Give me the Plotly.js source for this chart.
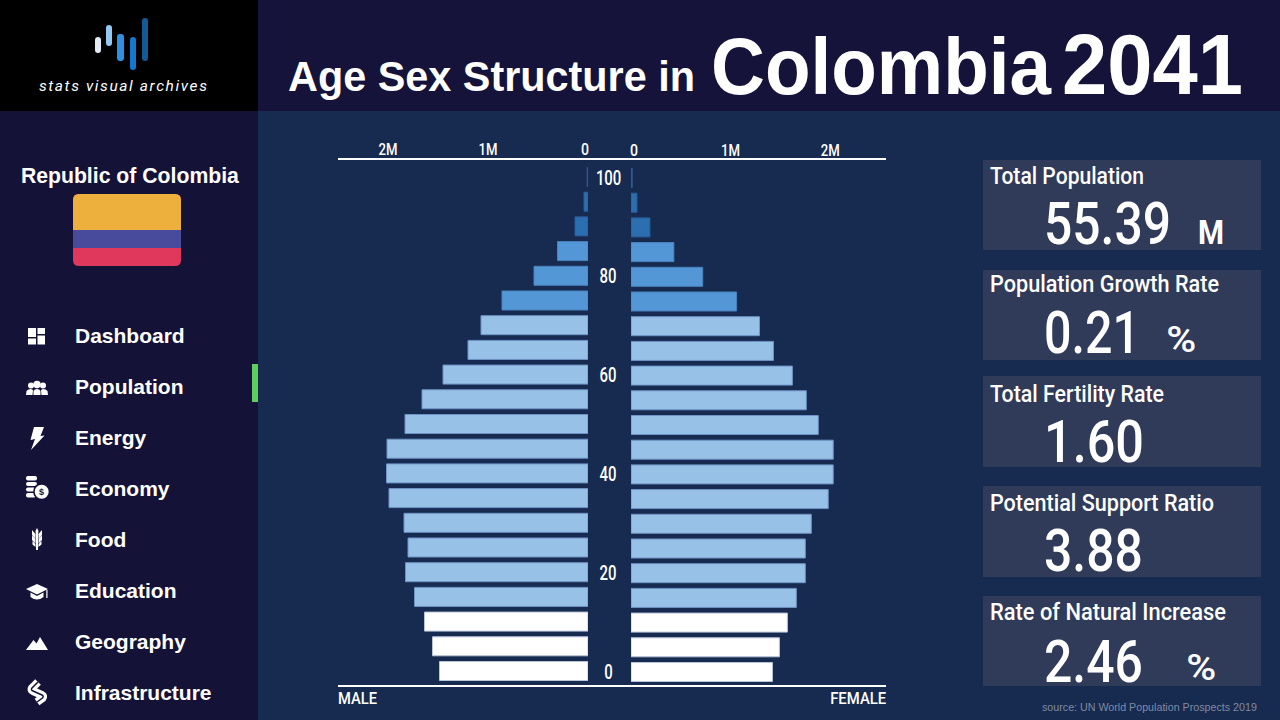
<!DOCTYPE html>
<html><head><meta charset="utf-8">
<script src="https://cdn.plot.ly/plotly-3.0.1.min.js"></script>
<style>html,body{margin:0;padding:0;background:#172a50;overflow:hidden}#c{width:1280px;height:720px}</style>
</head><body><div id="c"></div>
<script>
const ages=[0,5,10,15,20,25,30,35,40,45,50,55,60,65,70,75,80,85,90,95,100];
const male=[1.485,1.555,1.635,1.735,1.825,1.80,1.84,1.99,2.015,2.01,1.83,1.66,1.45,1.20,1.07,0.86,0.54,0.305,0.13,0.04,0.008];
const female=[1.42,1.49,1.57,1.66,1.75,1.75,1.81,1.98,2.03,2.03,1.88,1.76,1.62,1.43,1.29,1.06,0.72,0.43,0.19,0.06,0.012];
const ageLabels=[100,80,60,40,20,0];
const navItems=["Dashboard","Population","Energy","Economy","Food","Education","Geography","Infrastructure"];
const statNames=["Total Population","Population Growth Rate","Total Fertility Rate","Potential Support Ratio","Rate of Natural Increase"];
const statValues=["55.39","0.21","1.60","3.88","2.46"];
const statUnits=["M","%","","","%"];

const W=1280,H=720;
const fx=x=>x/W, fy=y=>1-y/H;
const cond='Roboto,sans-serif';
const sans='"Liberation Sans",Arial,sans-serif';
const barColor=a=>a<15?'#ffffff':a<=70?'#98c1e8':a<=85?'#5497d6':a<=95?'#2c6fb0':'#2c5c96';
const lineColor=a=>a<15?'#b9c4d8':a<=70?'#6f94c4':a<=85?'#4a82bd':'#2c5c96';
function rect(x0,y0,x1,y1,c,o){return Object.assign({type:'rect',xref:'paper',yref:'paper',x0:fx(x0),x1:fx(x1),y0:fy(y0),y1:fy(y1),fillcolor:c,line:{width:0},layer:'below'},o||{});}
function pathStr(d){let i=0;return d.replace(/-?\d+(\.\d+)?/g,m=>{const v=+m;const r=(i%2===0)?fx(v):fy(v);i++;return r.toFixed(5);});}
function pth(d,c){return {type:'path',xref:'paper',yref:'paper',path:pathStr(d),fillcolor:c||'#fff',line:{width:0},layer:'above'};}
function stroke(d,c,w){return {type:'path',xref:'paper',yref:'paper',path:pathStr(d),line:{color:c,width:w},layer:'above'};}
function rr(x0,y0,x1,y1,r,c){return pth(`M${x0+r} ${y0}L${x1-r} ${y0}Q${x1} ${y0} ${x1} ${y0+r}L${x1} ${y1-r}Q${x1} ${y1} ${x1-r} ${y1}L${x0+r} ${y1}Q${x0} ${y1} ${x0} ${y1-r}L${x0} ${y0+r}Q${x0} ${y0} ${x0+r} ${y0}Z`,c);}
function circ(cx,cy,r,c){return {type:'circle',xref:'paper',yref:'paper',x0:fx(cx-r),x1:fx(cx+r),y0:fy(cy+r),y1:fy(cy-r),fillcolor:c,line:{width:0},layer:'above'};}
const fg={layer:'above'};
const side='#151238';

const shapes=[
 rect(0,0,W,H,'#172a50'),
 rect(258,0,W,111,'#15133a'),
 rect(0,0,258,111,'#000000'),
 rect(0,111,258,H,side),
 rect(252,364,258,402,'#5fce5c',fg),
 rect(338,158,886,160,'#ffffff',fg),
 rect(338,685,886,687,'#ffffff',fg),
 rr(95,37,101,53,3,'#e3ecf5'),rr(106,25,112,46,3,'#93c8f5'),rr(117,34,124,61,3,'#2f8fe0'),rr(130,37,136,70,3,'#1577d0'),rr(142,18,148,61,3,'#135a96'),
 rr(73,194,181,266,6,'#e0385c'),
 pth('M73 230L73 200Q73 194 79 194L175 194Q181 194 181 200L181 230Z','#edb03c'),
 rect(73,230,181,248,'#484a9c',fg),
 // dashboard
 rect(28,328,36,337,'#fff',fg),rect(28,338.5,36,344.5,'#fff',fg),
 rect(37.5,328,45,334,'#fff',fg),rect(37.5,335.5,45,344.5,'#fff',fg),
 // population
 circ(31,385.5,3,'#fff'),circ(43,385.5,3,'#fff'),circ(37,384.5,3.7,'#fff'),
 pth('M26 395L26.5 391Q28 389 31 389L33 390L32.5 395Z','#fff'),
 pth('M48 395L47.5 391Q46 389 43 389L41 390L41.5 395Z','#fff'),
 pth('M33.5 395L33.5 391Q34.5 389 37 389Q39.5 389 40.5 391L40.5 395Z','#fff'),
 // energy
 pth('M34 427L44 427L40.5 436L44.5 435.5L31 450L35 439L30.5 440Z','#fff'),
 // economy
 rr(26,476,37,480.5,2,'#fff'),rr(26,482,37,486,2,'#fff'),rr(26,487.5,36,491.5,2,'#fff'),rr(26,493,36,497.5,2,'#fff'),
 circ(41.7,491.7,8.6,side),circ(41.7,491.7,7,'#fff'),
 // food
 pth('M37 528L38.5 531L38 536L38 550L36 550L36 536L35.5 531Z','#fff'),
 pth('M35.5 534L32 530L32 535L35.5 539Z','#fff'),pth('M35.5 539L32 535.5L32 540L35.5 543.5Z','#fff'),pth('M35.5 544L32.5 541L32.5 544.5L35.5 547Z','#fff'),
 pth('M38.5 534L42 530L42 535L38.5 539Z','#fff'),pth('M38.5 539L42 535.5L42 540L38.5 543.5Z','#fff'),pth('M38.5 544L41.5 541L41.5 544.5L38.5 547Z','#fff'),
 // education
 pth('M26 589L37 584L48 589L37 594.5Z','#fff'),pth('M30.5 592.5L37 596L43.5 592.5L43.5 597Q37 602 30.5 597Z','#fff'),rect(46.3,590,47.5,598,'#fff',fg),
 // geography
 pth('M26 650L33.5 640L36.5 643.5L40 637L48 650Z','#fff'),
 // infrastructure
 stroke('M38 682L32 688Q30.5 690 33 691L42 695Q44 696 42.5 698L37 702','#fff',8),
 stroke('M38 682L32 688Q30.5 690 33 691L42 695Q44 696 42.5 698L37 702',side,1.5),
];
[[160,250],[270,360],[376,467],[486,577],[596,686]].forEach(p=>shapes.push(rect(983,p[0],1261,p[1],'#303a59')));

const ann=[];
const fit={};
function t(x,y,text,size,color,font,anchor,width,weight,style){
 ann.push({xref:'paper',yref:'paper',x:fx(x),y:fy(y),text:text,showarrow:false,xanchor:anchor||'left',yanchor:'middle',align:anchor||'left',
  font:{family:font,size:size,color:color||'#fff',weight:weight||400,style:style||'normal'},borderpad:0,borderwidth:0});
 if(width) fit[text]=width;
}
t(288,77,'Age Sex Structure in',42,'#fff',sans,'left',407,700);
t(711,66,'Colombia',79,'#fff',sans,'left',340,700);
t(1062,64,'2041',85,'#fff',sans,'left',181,700);
t(123,86,'stats visual archives',15.5,'#fff',cond,'center',168,400,'italic');
t(130,175.5,'Republic of Colombia',21.2,'#fff',sans,'center',218,700);
const navY=[335.5,386.5,437.5,488.5,539.5,590.5,641.5,692.5];
navItems.forEach((n,i)=>t(74.5,navY[i],n,21,'#fff',sans,'left',0,700));
t(41.7,492,'$',9,'#151238',sans,'center',0,700);
const stY=[176,285,394,503,612], vY=[223,332,441,550,661], uX=[1194,1166,0,0,1186], uY=[232,340,0,0,668], nW=[154,229,174,224,236], vW=[127,96,100,99,99];
statNames.forEach((n,i)=>{
 t(990,stY[i],n,23,'#fff',cond,'left',nW[i],500);
 t(1044,vY[i],statValues[i],59,'#fff',cond,'left',vW[i],500);
 if(statUnits[i]) ann.push({xref:'paper',yref:'paper',x:fx(uX[i]),y:fy(uY[i]),text:statUnits[i],showarrow:false,xanchor:'left',yanchor:'middle',font:{family:cond,size:statUnits[i]==='M'?34:36,color:'#fff',weight:statUnits[i]==='M'?700:500}});
});
t(1042,707,'source: UN World Population Prospects 2019',10.7,'#7f8aa3',sans);
t(338,698,'MALE',16.5,'#fff',cond,'left',39,500);
t(886,698,'FEMALE',16.5,'#fff',cond,'right',56,500);
ageLabels.forEach(a=>{ann.push({xref:'paper',yref:'y',x:fx(608),y:a,yshift:-1,text:String(a),showarrow:false,xanchor:'center',yanchor:'middle',align:'center',font:{family:cond,size:19.5,color:'#fff',weight:500}});});
const ageW={100:25.5,80:17,60:17,40:17,20:17,0:8.5};
const unitW={M:26,'%':30};

const yr=[(671-686)/4.94,(671-159)/4.94];
const xaxisBase={showgrid:false,zeroline:false,showline:false,ticks:'',side:'top',tickmode:'array',tickfont:{family:cond,size:16,color:'#fff',weight:500},fixedrange:true};
const layout={width:W,height:H,margin:{l:0,r:0,t:0,b:0,pad:0},paper_bgcolor:'#172a50',plot_bgcolor:'rgba(0,0,0,0)',showlegend:false,barmode:'overlay',
 shapes:shapes,annotations:ann,
 xaxis:Object.assign({},xaxisBase,{domain:[fx(338),fx(588)],range:[2.5,0],anchor:'y',tickvals:[2,1,0.03],ticktext:['2M','1M','0']}),
 xaxis2:Object.assign({},xaxisBase,{domain:[fx(631),fx(886)],range:[0,2.56],anchor:'y2',tickvals:[0.03,1,2],ticktext:['0','1M','2M']}),
 yaxis:{domain:[fy(686),fy(159)],range:yr,anchor:'x',visible:false,fixedrange:true},
 yaxis2:{domain:[fy(687),fy(160)],range:yr,anchor:'x2',visible:false,fixedrange:true}
};
const data=[
 {type:'bar',orientation:'h',x:male,y:ages,xaxis:'x',yaxis:'y',width:3.85,marker:{color:ages.map(barColor),line:{color:ages.map(lineColor),width:1}},hoverinfo:'skip',name:'Male'},
 {type:'bar',orientation:'h',x:female,y:ages,xaxis:'x2',yaxis:'y2',width:3.85,marker:{color:ages.map(barColor),line:{color:ages.map(lineColor),width:1}},hoverinfo:'skip',name:'Female'}
];
Plotly.newPlot('c',data,layout,{displayModeBar:false,staticPlot:true}).then(gd=>{
 const squeeze=(el,w,adj)=>{el.setAttribute('textLength',w);el.setAttribute('lengthAdjust',adj||'spacingAndGlyphs');};
 gd.querySelectorAll('text.annotation-text').forEach(el=>{
  const s=el.textContent;
  if(s==='stats visual archives') squeeze(el,fit[s],'spacing');
  else if(fit[s]) squeeze(el,fit[s]);
  else if(ageW[s]) squeeze(el,ageW[s]);
  else if(unitW[s]) squeeze(el,unitW[s]);
 });
 gd.querySelectorAll('.xtick text, .x2tick text').forEach(el=>{
  const s=el.textContent; squeeze(el,s==='0'?8:19);
 });
});
</script></body></html>
